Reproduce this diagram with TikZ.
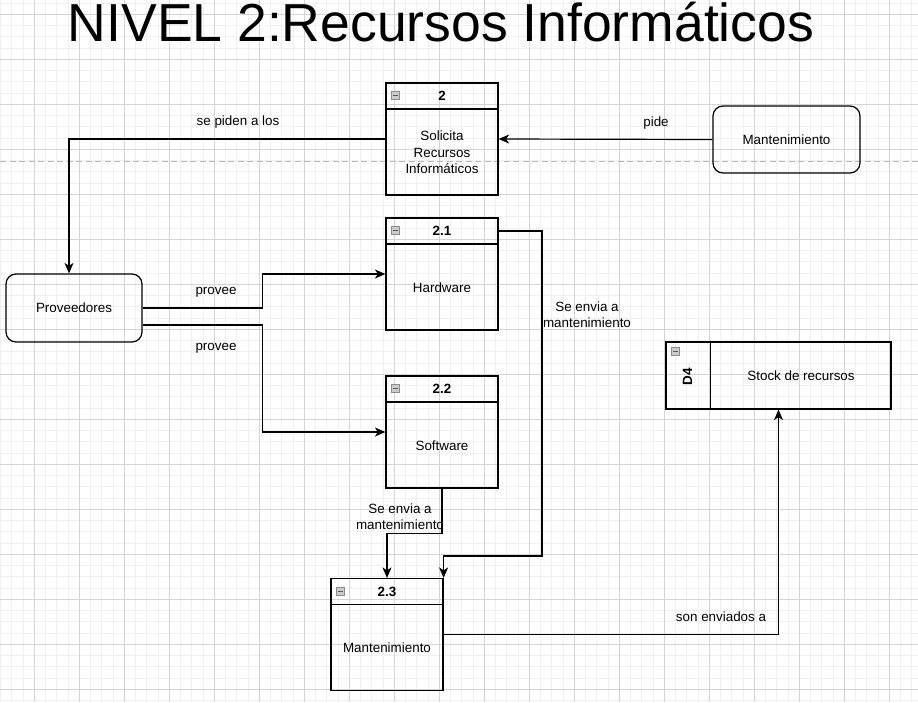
\documentclass[tikz,border=0pt]{standalone}
\usepackage{fontspec}
\setmainfont{Liberation Sans}
\usetikzlibrary{arrows.meta,calc,positioning}

\tikzset{
  gridminor/.style={line width=0.8pt, draw=black!6},
  gridmajor/.style={line width=0.8pt, draw=black!17},
  procbox/.style={draw, line width=1.2pt, minimum width=112pt, minimum height=112pt, inner sep=0pt},
  prochead/.style={draw, line width=1.2pt, anchor=north, minimum width=112pt, minimum height=26pt, inner sep=0pt, font=\fontsize{13.4}{16.4}\selectfont\bfseries},
  entity/.style={draw, line width=1.2pt, rounded corners=10pt, minimum width=147pt, minimum height=67pt, inner sep=0pt},
  storebox/.style={draw, line width=1.2pt, minimum width=225pt, minimum height=67pt, inner sep=0pt},
  minusbox/.style={draw=black!45, fill=black!20, line width=0.6pt, minimum size=8pt, inner sep=0pt,
    path picture={\draw[black!65, line width=0.8pt] ([xshift=1.5pt]path picture bounding box.west) -- ([xshift=-1.5pt]path picture bounding box.east);}},
  flow/.style={line width=1.2pt, -{Stealth[length=10.5pt, width=9pt, inset=3pt]}},
  flowlabel/.style={align=center, inner sep=0pt}
}

\begin{document}
\begin{tikzpicture}[x=1pt, y=-1pt, every node/.style={font=\fontsize{13.4}{16.4}\selectfont}]
  \useasboundingbox (0,0) rectangle (918,702);
  \fill[white] (0,0) rectangle (918,702);

  % background grid
  \foreach \gx in {0.55,11.8,...,918} \draw[gridminor] (\gx,0) -- (\gx,702);
  \foreach \gy in {3.05,14.3,...,702} \draw[gridminor] (0,\gy) -- (918,\gy);
  \foreach \gx in {34.3,79.3,...,918} \draw[gridmajor] (\gx,0) -- (\gx,702);
  \foreach \gy in {14.3,59.3,...,702} \draw[gridmajor] (0,\gy) -- (918,\gy);
  \draw[black!28, line width=1pt, dash pattern=on 6pt off 3.5pt] (0,161) -- (918,161);

  % title
  \node[anchor=base, font=\fontsize{53.5}{60}\selectfont] (title) at (441,41) {NIVEL 2:Recursos Informáticos};

  % processes
  \node[procbox] (p2) at (442,139) {};
  \node[prochead] (p2h) at (p2.north) {2};
  \node[minusbox] (p2m) at ($(p2.north west)+(10,13)$) {};
  \node[align=center] (p2t) at ($(p2h.south)!0.5!(p2.south)$) {Solicita\\Recursos\\Informáticos};

  \node[procbox] (p21) at (442,274) {};
  \node[prochead] (p21h) at (p21.north) {2.1};
  \node[minusbox] (p21m) at ($(p21.north west)+(10,13)$) {};
  \node (p21t) at ($(p21h.south)!0.5!(p21.south)$) {Hardware};

  \node[procbox] (p22) at (442,432) {};
  \node[prochead] (p22h) at (p22.north) {2.2};
  \node[minusbox] (p22m) at ($(p22.north west)+(10,13)$) {};
  \node (p22t) at ($(p22h.south)!0.5!(p22.south)$) {Software};

  \node[procbox] (p23) at (387,634.5) {};
  \node[prochead] (p23h) at (p23.north) {2.3};
  \node[minusbox] (p23m) at ($(p23.north west)+(10,13)$) {};
  \node (p23t) at ($(p23h.south)!0.5!(p23.south)$) {Mantenimiento};

  % external entities
  \node[entity] (mant) at (786.5,139.5) {Mantenimiento};
  \node[entity, minimum width=136pt, minimum height=68pt] (prov) at (74,308) {Proveedores};

  % data store
  \node[storebox] (d4) at (778.5,375.5) {};
  \draw[line width=1.2pt] ($(d4.north west)+(45,0)$) -- ($(d4.south west)+(45,0)$);
  \node[minusbox] (d4m) at ($(d4.north west)+(10,10)$) {};
  \node[rotate=90, font=\fontsize{13.4}{16.4}\selectfont\bfseries] (d4id) at ($(d4.west)+(22,1.5)$) {D4};
  \node (d4t) at ($(d4.east)!0.5!(d4.west)+(22.5,0)$) {Stock de recursos};

  % flows
  \draw[flow] (mant.west) -- (p2.east);
  \draw[flow] (p2.west) -| ([xshift=-5pt]prov.north);
  \draw[flow] (prov.east) -- ++(120,0) |- (p21.west);
  \draw[flow] ([yshift=-17pt]prov.east) -- ++(120,0) |- (p22.west);
  \draw[flow] (p22.south) -- ++(0,45) -| (p23.north);
  \coordinate (c1) at (542,556);
  \draw[flow] (p21h.east) -| (c1) -| (p23.north east);
  \draw[flow] (p23.east) -| (d4.south);

  % flow labels
  \node[flowlabel] (lpide) at (656,123) {pide};
  \node[flowlabel] (lpiden) at (238,122) {se piden a los};
  \node[flowlabel] (lprov1) at (216,292) {provee};
  \node[flowlabel] (lprov2) at (216,348) {provee};
  \node[flowlabel] (lenv1) at (587,315) {Se envia a\\mantenimiento};
  \node[flowlabel] (lenv2) at (400,516.5) {Se envia a\\mantenimiento};
  \node[flowlabel] (lstock) at (721,617) {son enviados a};
\end{tikzpicture}
\end{document}
